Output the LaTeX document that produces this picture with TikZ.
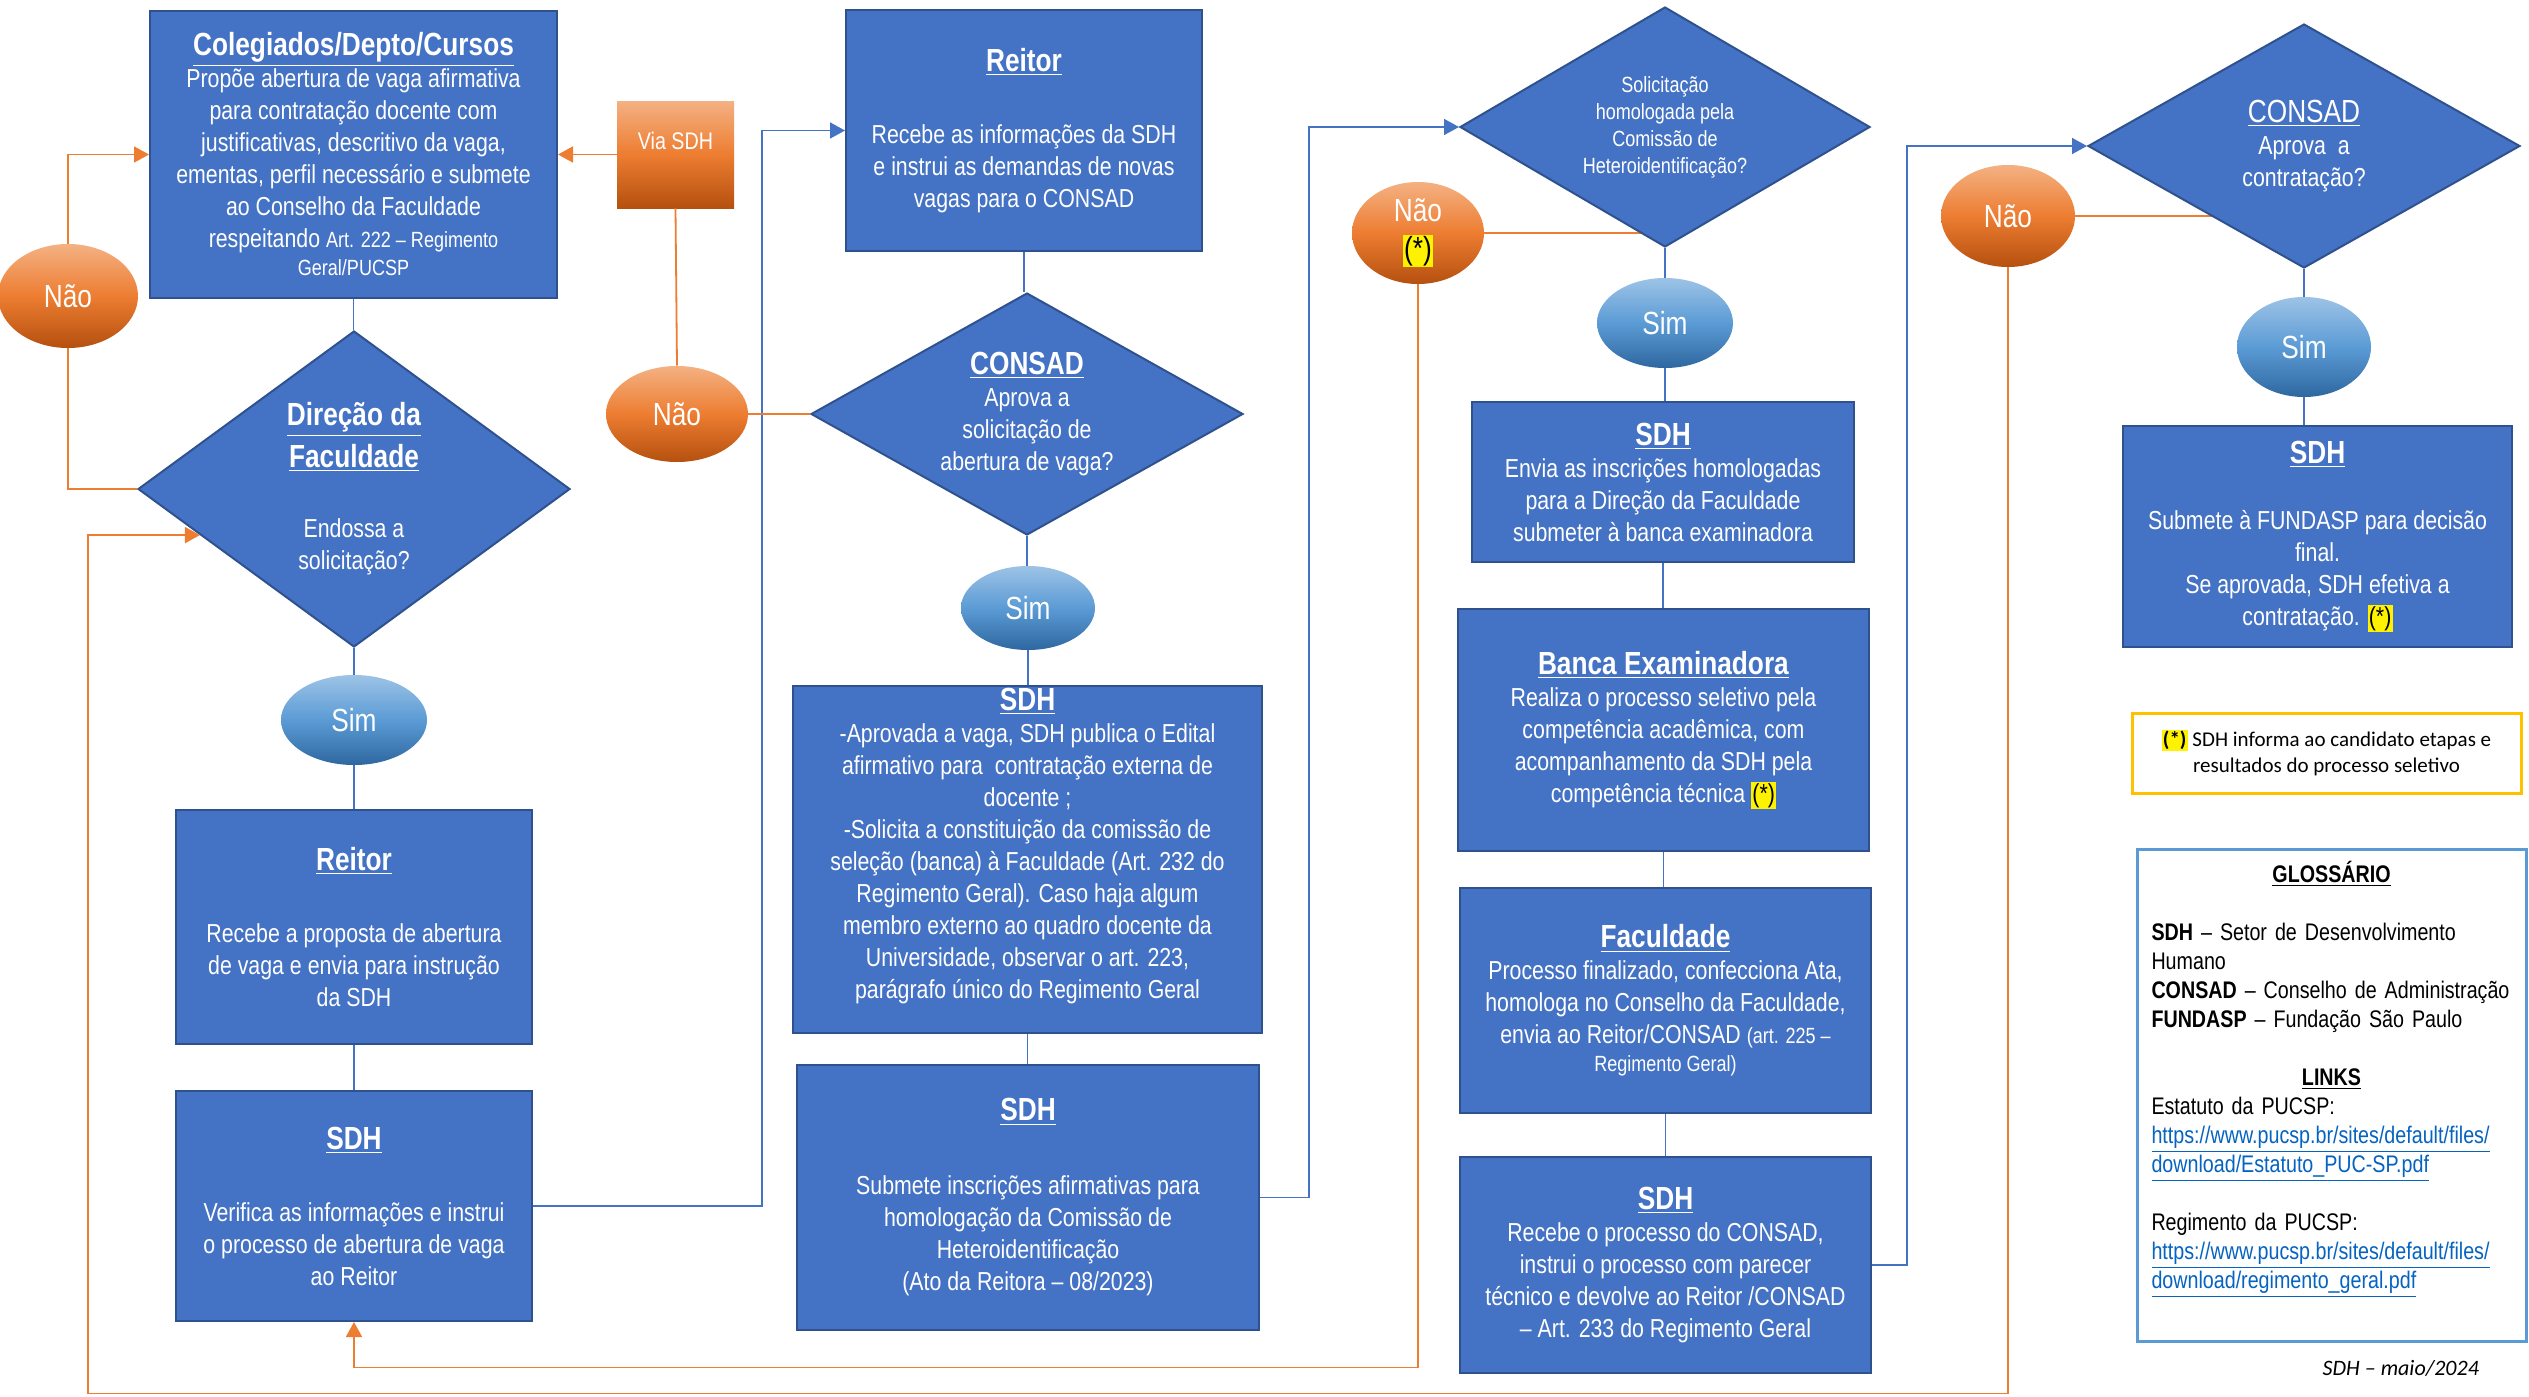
\documentclass[tikz,border=0pt]{standalone}
\usepackage{fontspec}
\setmainfont{Liberation Sans}[FakeStretch=0.82]
\newfontfamily\calib{Carlito}
\usetikzlibrary{shapes.geometric,arrows.meta,backgrounds,calc}

\definecolor{boxfill}{HTML}{4472C4}
\definecolor{boxline}{HTML}{2F528F}
\definecolor{flowblue}{HTML}{4472C4}
\definecolor{floworange}{HTML}{ED7D31}
\definecolor{orTop}{HTML}{F4B183}
\definecolor{orMid}{HTML}{ED7D31}
\definecolor{orBot}{HTML}{B5500F}
\definecolor{blTop}{HTML}{9DC3E6}
\definecolor{blMid}{HTML}{5B9BD5}
\definecolor{blBot}{HTML}{2E67A0}
\definecolor{notebox}{HTML}{FFC000}
\definecolor{glosline}{HTML}{5B9BD5}
\definecolor{linkblue}{HTML}{0563C1}

\newcommand{\boxtitle}[1]{{\fontsize{16}{19}\selectfont\underline{\textbf{#1}}}}
\newcommand{\artsize}{\fontsize{11}{13}\selectfont}
\newcommand{\hlmark}[1]{{\setlength{\fboxsep}{0.6pt}\colorbox{yellow}{\color{black}#1}}}
\newcommand{\weblink}[1]{\textcolor{linkblue}{\underline{#1}}}

\tikzset{
    bluebox/.style={draw=boxline, line width=1pt, fill=boxfill, text=white, align=center, inner sep=0pt, font=\fontsize{13}{16}\selectfont},
    decision/.style={diamond, draw=boxline, line width=1pt, fill=boxfill, text=white, align=center, inner sep=0pt, font=\fontsize{13}{16}\selectfont},
    nao/.style={ellipse, top color=orTop, bottom color=orBot, middle color=orMid, text=white, align=center, inner sep=0pt, font=\fontsize{16}{19}\selectfont},
    sim/.style={ellipse, top color=blTop, bottom color=blBot, middle color=blMid, text=white, inner sep=0pt, font=\fontsize{16}{19}\selectfont},
    dims/.style 2 args={minimum width=#1*0.5pt, minimum height=#2*0.5pt},
    bline/.style={draw=flowblue, line width=0.8pt},
    oline/.style={draw=floworange, line width=0.9pt}
}

\begin{document}
\begin{tikzpicture}[x=0.5pt, y=-0.5pt, >={Triangle[length=7.5pt, width=8pt]}]
\useasboundingbox (0,0) rectangle (2529,1397);

\node (colg) at (353.5,154.5)[bluebox, dims={407}{287}]{\boxtitle{Colegiados/Depto/Cursos}\\
Propõe abertura de vaga afirmativa\\
para contratação docente com\\
justificativas, descritivo da vaga,\\
ementas, perfil necessário e submete\\
ao Conselho da Faculdade\\
respeitando {\artsize Art. 222 – Regimento}\\[-2pt]
{\artsize Geral/PUCSP}};
\node (viasdh) at (675.5,154.5)[rectangle, top color=orTop, bottom color=orBot, middle color=orMid, text=white, align=center, inner sep=0pt, dims={117}{107}, font=\fontsize{12}{14}\selectfont]{Via SDH\\\mbox{}};
\node (nao1) at (68,296)[nao, dims={140}{104}]{Não};
\node (dir) at (354,489)[decision, aspect=1.37, dims={432}{316}]{\boxtitle{Direção da}\\[3pt]\boxtitle{Faculdade}\\[19pt]Endossa a\\solicitação?};
\node (sim1) at (354,720)[sim, dims={146}{90}]{Sim};
\node (reit1) at (354,927)[bluebox, dims={356}{234}]{\boxtitle{Reitor}\\[20pt]Recebe a proposta de abertura\\de vaga e envia para instrução\\da SDH};
\node (sdh1) at (354,1206)[bluebox, dims={356}{230}]{\boxtitle{SDH}\\[20pt]Verifica as informações e instrui\\o processo de abertura de vaga\\ao Reitor};

\node (nao2) at (677,414)[nao, dims={142}{96}]{Não};
\node (reit2) at (1024,130.5)[bluebox, dims={356}{241}]{\boxtitle{Reitor}\\[20pt]Recebe as informações da SDH\\e instrui as demandas de novas\\vagas para o CONSAD};
\node (cons1) at (1027,414)[decision, aspect=1.79, dims={432}{242}]{\boxtitle{CONSAD}\\Aprova a\\solicitação de\\abertura de vaga?};
\node (sim2) at (1028,608)[sim, dims={134}{84}]{Sim};
\node (sdh2) at (1027.5,859.5)[bluebox, dims={469}{347}]{\boxtitle{SDH}\\
-Aprovada a vaga, SDH publica o Edital\\
afirmativo para\ \ contratação externa de\\
docente ;\\
-Solicita a constituição da comissão de\\
seleção (banca) à Faculdade (Art. 232 do\\
Regimento Geral). Caso haja algum\\
membro externo ao quadro docente da\\
Universidade, observar o art. 223,\\
parágrafo único do Regimento Geral\\[0pt]\mbox{}};
\node (sdh3) at (1028,1197.5)[bluebox, dims={462}{265}]{\boxtitle{SDH}\\[21pt]Submete inscrições afirmativas para\\homologação da Comissão de\\Heteroidentificação\\(Ato da Reitora – 08/2023)};

\node (sol) at (1665,127)[decision, aspect=1.71, dims={410}{240}, font=\fontsize{11}{13.5}\selectfont]{Solicitação\\homologada pela\\Comissão de\\Heteroidentificação?};
\node (nao3) at (1418,233)[nao, dims={132}{102}]{Não\\\hlmark{(*)}};
\node (sim3) at (1665,323)[sim, dims={136}{90}]{Sim};
\node (sdh4) at (1663,482)[bluebox, dims={382}{160}]{\boxtitle{SDH}\\Envia as inscrições homologadas\\para a Direção da Faculdade\\submeter à banca examinadora};
\node (banca) at (1663.5,730)[bluebox, dims={411}{242}]{\boxtitle{Banca Examinadora}\\Realiza o processo seletivo pela\\competência acadêmica, com\\acompanhamento da SDH pela\\competência técnica \hlmark{(*)}};
\node (facu) at (1665.5,1000.5)[bluebox, dims={411}{225}]{\boxtitle{Faculdade}\\Processo finalizado, confecciona Ata,\\homologa no Conselho da Faculdade,\\envia ao Reitor/CONSAD {\artsize (art. 225 –}\\[-2pt]{\artsize Regimento Geral)}};
\node (sdh5) at (1665.5,1265)[bluebox, dims={411}{216}]{\boxtitle{SDH}\\Recebe o processo do CONSAD,\\instrui o processo com parecer\\técnico e devolve ao Reitor /CONSAD\\– Art. 233 do Regimento Geral};

\node (cons2) at (2304,146)[decision, aspect=1.77, dims={432}{244}]{{\fontsize{16}{19}\selectfont\underline{CONSAD}}\\Aprova\ \ a\\contratação?};
\node (nao4) at (2008,216)[nao, dims={134}{102}]{Não};
\node (sim4) at (2304,347)[sim, dims={134}{100}]{Sim};
\node (sdh6) at (2317.5,536.5)[bluebox, dims={389}{221}]{\boxtitle{SDH}\\[17pt]Submete à FUNDASP para decisão\\final.\\Se aprovada, SDH efetiva a\\contratação. \hlmark{(*)}};

\node (note) at (2326.5,753)[draw=notebox, line width=1.5pt, fill=white, dims={389}{80}, align=center, font=\calib\fontsize{10.5}{13}\selectfont]{\hlmark{\textbf{(*)}} SDH informa ao candidato etapas e\\resultados do processo seletivo};
\node (glos) at (2331.5,1095)[draw=glosline, line width=1.5pt, fill=white, dims={389}{492}, text width=180pt, align=left, font=\fontsize{12}{14.5}\selectfont]{\makebox[180pt]{\underline{\textbf{GLOSSÁRIO}}}\\[14.5pt]
\mbox{\textbf{SDH} – Setor de Desenvolvimento}\\
Humano\\
\mbox{\textbf{CONSAD} – Conselho de Administração}\\
\mbox{\textbf{FUNDASP} – Fundação São Paulo}\\[14.5pt]
\makebox[180pt]{\underline{\textbf{LINKS}}}\\
\mbox{Estatuto da PUCSP:}\\
\mbox{\weblink{https://www.pucsp.br/sites/default/files/}}\\
\mbox{\weblink{download/Estatuto\_PUC-SP.pdf}}\\[14.5pt]
\mbox{Regimento da PUCSP:}\\
\mbox{\weblink{https://www.pucsp.br/sites/default/files/}}\\
\mbox{\weblink{download/regimento\_geral.pdf}}\\[6pt]\mbox{}};
\node (sign) at (2486,1368)[anchor=east, font=\calib\itshape\fontsize{11}{13}\selectfont]{SDH – maio/2024};

\begin{scope}[on background layer]
\fill[white] (0,0) rectangle (2529,1397);
\draw[oline] (nao3.east) -- (nao3.east -| sol.center);
\draw[oline] (nao4.east) -- (nao4.east -| cons2.center);
\end{scope}

\foreach \a/\b in {colg/dir, dir/sim1, sim1/reit1, reit1/sdh1, reit2/cons1, cons1/sim2, sim2/sdh2, sdh2/sdh3, sol/sim3, sim3/sdh4, sdh4/banca, banca/facu, facu/sdh5, cons2/sim4, sim4/sdh6}
{
    \draw[bline] (\a.south) -- (\a.south |- \b.north);
}
\draw[bline, ->] (sdh1.east) -- ++(229,0) |- (reit2.west);
\draw[bline, ->] (sdh3.east) -- ++(49,0) |- (sol.west);
\draw[bline, ->] (sdh5.east) -- ++(35,0) |- (cons2.west);

\coordinate (dirin) at ($(dir.west)!0.29!(dir.south)$);
\draw[oline, ->] (viasdh.west) -- (colg.east);
\draw[oline] (viasdh.south) -- (nao2.north);
\draw[oline] (nao2.east) -- (cons1.west);
\draw[oline, ->] (nao1.north) |- (colg.west);
\draw[oline] (nao1.south) |- (dir.west);
\draw[oline, ->] (nao3.south) -- ++(0,1083) -| (sdh1.south);
\draw[oline, ->] (nao4.south) -- ++(0,1126) -- ++(-1920,0) |- (dirin);
\end{tikzpicture}
\end{document}
